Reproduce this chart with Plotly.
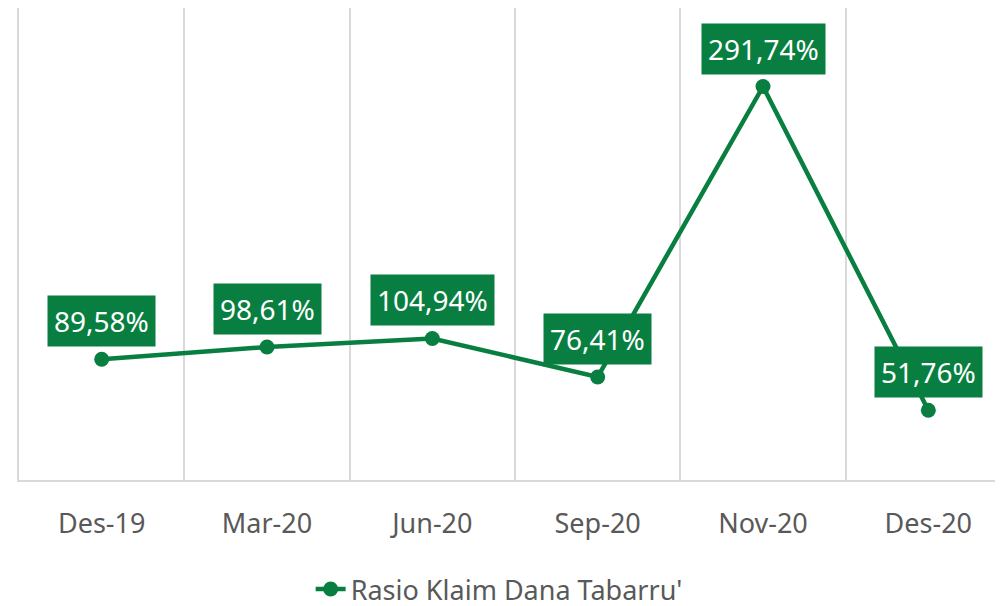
import plotly.graph_objects as go

periods = ["Des-19", "Mar-20", "Jun-20", "Sep-20", "Nov-20", "Des-20"]
ratio = [89.58, 98.61, 104.94, 76.41, 291.74, 51.76]
ratio_labels = ["89,58%", "98,61%", "104,94%", "76,41%", "291,74%", "51,76%"]

green = "#087f40"
grid = "#d9d9d9"
font_name = "Noto Sans"

fig = go.Figure()
fig.add_trace(go.Scatter(
    x=periods, y=ratio,
    mode="lines+markers",
    line=dict(color=green, width=4.5),
    marker=dict(color=green, size=15),
    name="Rasio Klaim Dana Tabarru'",
))

# data labels in green boxes above each point
for p, v, t in zip(periods, ratio, ratio_labels):
    fig.add_annotation(
        x=p, y=v, text=t, showarrow=False,
        yanchor="bottom", yshift=12,
        bgcolor=green, borderpad=6,
        font=dict(family=font_name, size=28, color="white"),
    )

# the page body adds an 8px offset, margins below make up for it
fig.update_xaxes(
    type="category",
    range=[-0.5, 5.5],
    tickson="boundaries",
    automargin=False,
    showgrid=True, gridcolor=grid, gridwidth=2,
    showline=True, linecolor=grid, linewidth=2,
    ticks="", ticklabelstandoff=19,
    tickfont=dict(family=font_name, size=27, color="#595959"),
    zeroline=False,
)
fig.update_yaxes(
    range=[0, 350], showgrid=False, zeroline=False, automargin=False,
    showticklabels=False, showline=True, linecolor=grid, linewidth=2,
)
fig.update_layout(
    width=1003, height=606,
    margin=dict(l=11, r=0, t=0, b=134),
    paper_bgcolor="white", plot_bgcolor="white",
    showlegend=True,
    legend=dict(
        orientation="h", x=0.294, xanchor="left",
        y=-0.233, yanchor="middle",
        font=dict(family=font_name, size=27, color="#595959"),
    ),
)

fig.write_html("out.html")
